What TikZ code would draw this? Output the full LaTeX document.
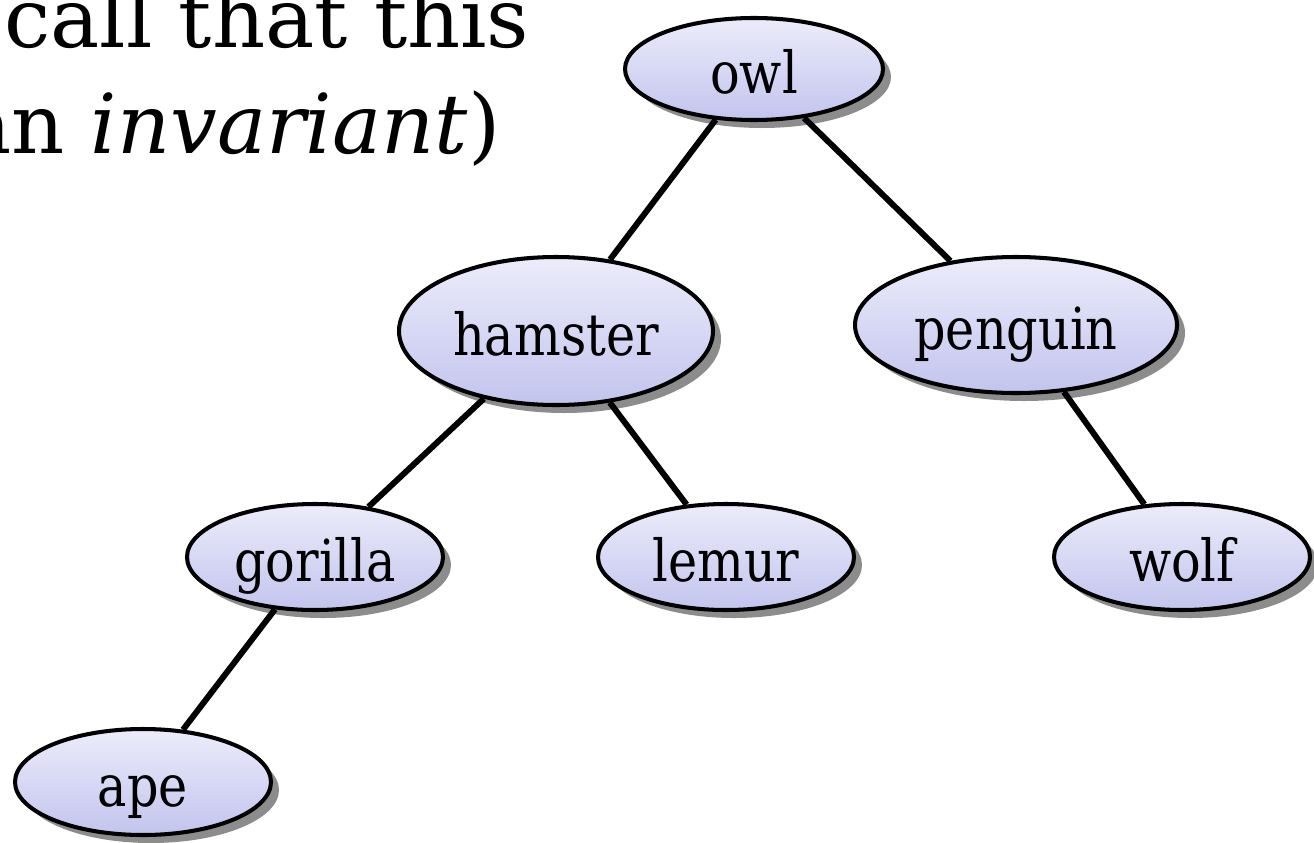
\documentclass[tikz,border=0pt]{standalone}
\usepackage{fontspec}
\usepackage{tikz}
\usetikzlibrary{shapes.geometric,shadows}
\newfontfamily\animalfont[FakeStretch=0.85]{DejaVu Serif}
\newfontfamily\slidefont{DejaVu Serif}
\definecolor{nodetop}{RGB}{236,236,250}
\definecolor{nodebot}{RGB}{194,196,238}

\begin{document}
\begin{tikzpicture}[
		animal/.style={ellipse, draw=black, line width=1.15pt, inner sep=0pt,
			top color=nodetop, bottom color=nodebot,
			minimum width=2.56cm, minimum height=1.06cm,
			text height=14pt, text depth=0.3pt,
			drop shadow={shadow xshift=0.08cm, shadow yshift=-0.08cm, fill=black!45, opacity=1},
			font=\animalfont\fontsize{16.5}{18}\selectfont},
		branch/.style={line width=1.7pt},
		slideline/.style={anchor=base east, inner sep=0pt, font=\slidefont\fontsize{23.5}{28}\selectfont}
	]
			%%%%% START %%%%%
			
			\useasboundingbox (0, 0) rectangle (13.14, 8.42);
			\clip (0, 0) rectangle (13.14, 8.42);
			
			% slide text running in from the left
			\node[slideline] (lineone) at (5.30, 7.95) {call that this};
			\node[slideline] (linetwo) at (5.01, 6.89) {an \emph{invariant})};
			
			% the tree
			\node[animal, minimum width=2.58cm, minimum height=1.02cm] (owl) at (7.54, 7.73) {owl};
			\node[animal, minimum width=3.14cm, minimum height=1.48cm] (hamster) at (5.56, 5.11) {hamster};
			\node[animal, minimum width=3.22cm, minimum height=1.36cm] (penguin) at (10.16, 5.17) {penguin};
			\node[animal] (gorilla) at (3.15, 2.85) {gorilla};
			\node[animal] (lemur) at (7.26, 2.85) {lemur};
			\node[animal] (wolf) at (11.82, 2.85) {wolf};
			\node[animal] (ape) at (1.43, 0.60) {ape};
			
			\draw[branch] (owl) -- (hamster);
			\draw[branch] (owl) -- (penguin);
			\draw[branch] (hamster) -- (gorilla);
			\draw[branch] (hamster) -- (lemur);
			\draw[branch] (penguin) -- (wolf);
			\draw[branch] (gorilla) -- (ape);
			
			%%%%% END %%%%%
		\end{tikzpicture}
\end{document}
